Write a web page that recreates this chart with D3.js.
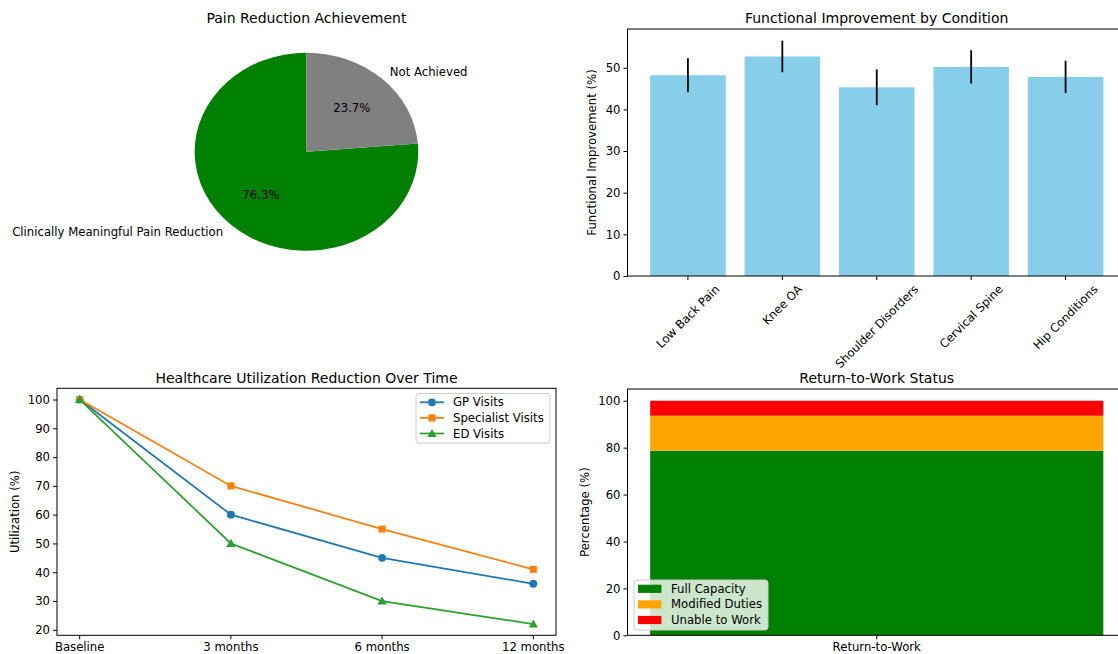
<!DOCTYPE html>
<html><head><meta charset="utf-8">
<script src="https://cdn.jsdelivr.net/npm/d3@7"></script>
<style>
body{margin:0;background:#fff}
svg{display:block;font-family:"DejaVu Sans",sans-serif}
</style></head><body>
<svg id="fig" width="1118" height="654"></svg>
<script>
// Pain reduction outcome split
const painLabels = ["Clinically Meaningful Pain Reduction", "Not Achieved"];
const painValues = [76.3, 23.7];
const painColors = ["#008000", "#808080"];

// Functional improvement by condition (mean and error)
const conditions = ["Low Back Pain", "Knee OA", "Shoulder Disorders", "Cervical Spine", "Hip Conditions"];
const improvement = [48.2, 52.7, 45.3, 50.2, 47.8];
const improvementErr = [4.1, 3.8, 4.3, 4.0, 3.9];
const improvementTicks = [0, 10, 20, 30, 40, 50];

// Healthcare utilisation over time (% of baseline)
const timepoints = ["Baseline", "3 months", "6 months", "12 months"];
const gpVisits = [100, 60, 45, 36];
const specialistVisits = [100, 70, 55, 41];
const edVisits = [100, 50, 30, 22];
const utilTicks = [20, 30, 40, 50, 60, 70, 80, 90, 100];

// Return-to-work status
const rtwCategory = ["Return-to-Work"];
const rtwStatus = ["Full Capacity", "Modified Duties", "Unable to Work"];
const rtwValues = [78.7, 14.9, 6.4];
const rtwColors = ["#008000", "#ffa500", "#ff0000"];
const rtwTicks = [0, 20, 40, 60, 80, 100];

const FS = 11.7, TFS = 14;
const svg = d3.select("#fig");

function frame(x0, y0, x1, y1) {
  svg.append("rect").attr("x", x0).attr("y", y0).attr("width", x1 - x0).attr("height", y1 - y0)
    .attr("fill", "none").attr("stroke", "#000").attr("stroke-width", 1);
}
function title(text, x, y) {
  svg.append("text").attr("x", x).attr("y", y).attr("text-anchor", "middle")
    .attr("font-size", TFS).attr("fill", "#000").text(text);
}
function yLabel(text, x, y) {
  svg.append("text").attr("transform", `translate(${x},${y}) rotate(-90)`)
    .attr("text-anchor", "middle").attr("dominant-baseline", "central")
    .attr("font-size", FS).attr("fill", "#000").text(text);
}
function yAxis(scale, x, ticks) {
  const g = svg.append("g").attr("transform", `translate(${x},0)`)
    .call(d3.axisLeft(scale).tickValues(ticks).tickSize(4).tickPadding(3).tickFormat(d3.format("d")));
  g.select(".domain").remove();
  g.selectAll("text").attr("font-size", FS).attr("font-family", "DejaVu Sans").attr("fill", "#000");
  g.selectAll("line").attr("stroke", "#000");
  return g;
}

// ---------- Pie: pain reduction ----------
{
  const cx = 306.4, cy = 151.7, rx = 111.8, ry = 99;
  const arcs = d3.pie().sort(null).startAngle(0).endAngle(-2 * Math.PI)(painValues);
  const arc = d3.arc().innerRadius(0).outerRadius(1);
  const g = svg.append("g").attr("transform", `translate(${cx},${cy}) scale(${rx},${ry})`);
  g.selectAll("path").data(arcs).join("path").attr("d", arc).attr("fill", (d, i) => painColors[i]);
  arcs.forEach((a, i) => {
    const mid = (a.startAngle + a.endAngle) / 2;
    const dx = Math.sin(mid), dy = -Math.cos(mid);
    svg.append("text").attr("x", cx + dx * 1.1 * rx).attr("y", cy + dy * 1.1 * ry)
      .attr("text-anchor", dx > 0 ? "start" : "end").attr("dominant-baseline", "central")
      .attr("font-size", FS).attr("fill", "#000").text(painLabels[i]);
    svg.append("text").attr("x", cx + dx * 0.6 * rx).attr("y", cy + dy * 0.6 * ry)
      .attr("text-anchor", "middle").attr("dominant-baseline", "central")
      .attr("font-size", FS).attr("fill", "#000").text(painValues[i].toFixed(1) + "%");
  });
  title("Pain Reduction Achievement", cx, 23.3);
}

// ---------- Bars: functional improvement ----------
{
  const x0 = 627.5, x1 = 1126, y0 = 29, y1 = 276;
  const x = d3.scaleBand().domain(conditions).range([x0, x1]).paddingInner(0.2).paddingOuter(0.24);
  const y = d3.scaleLinear().domain([0, 59.3]).range([y1, y0]);
  svg.append("g").selectAll("rect").data(conditions).join("rect")
    .attr("x", d => x(d)).attr("width", x.bandwidth())
    .attr("y", (d, i) => y(improvement[i])).attr("height", (d, i) => y1 - y(improvement[i]))
    .attr("fill", "#87ceeb");
  svg.append("g").selectAll("line").data(conditions).join("line")
    .attr("x1", d => x(d) + x.bandwidth() / 2).attr("x2", d => x(d) + x.bandwidth() / 2)
    .attr("y1", (d, i) => y(improvement[i] - improvementErr[i]))
    .attr("y2", (d, i) => y(improvement[i] + improvementErr[i]))
    .attr("stroke", "#000").attr("stroke-width", 1.8);
  frame(x0, y0, x1, y1);
  yAxis(y, x0, improvementTicks);
  // x ticks with 45° labels
  conditions.forEach(c => {
    const cxp = x(c) + x.bandwidth() / 2;
    svg.append("line").attr("x1", cxp).attr("x2", cxp).attr("y1", y1).attr("y2", y1 + 4).attr("stroke", "#000");
    const t = svg.append("text").attr("text-anchor", "middle").attr("dominant-baseline", "central")
      .attr("font-size", FS).attr("fill", "#000").text(c);
    const L = t.node().getComputedTextLength();
    const side = (L + FS * 1.0) / Math.SQRT2;
    t.attr("transform", `translate(${cxp},${y1 + 7 + side / 2}) rotate(-45)`);
  });
  yLabel("Functional Improvement (%)", 592, (y0 + y1) / 2);
  title("Functional Improvement by Condition", 876.7, 23.3);
}

// ---------- Lines: healthcare utilisation ----------
{
  const x0 = 57, x1 = 556, y0 = 388.3, y1 = 635.3;
  const x = d3.scalePoint().domain(timepoints).range([x0, x1]).padding(0.15);
  const y = d3.scaleLinear().domain([18.1, 103.9]).range([y1, y0]);
  const series = [
    {name: "GP Visits", values: gpVisits, color: "#1f77b4", marker: "circle"},
    {name: "Specialist Visits", values: specialistVisits, color: "#ff7f0e", marker: "square"},
    {name: "ED Visits", values: edVisits, color: "#2ca02c", marker: "triangle"}
  ];
  const sym = {circle: d3.symbolCircle, square: d3.symbolSquare, triangle: d3.symbolTriangle};
  const size = {circle: 48, square: 50, triangle: 38};
  const line = d3.line().x((d, i) => x(timepoints[i])).y(d => y(d));
  series.forEach(s => {
    svg.append("path").datum(s.values).attr("d", line).attr("fill", "none")
      .attr("stroke", s.color).attr("stroke-width", 1.75);
    svg.append("g").selectAll("path").data(s.values).join("path")
      .attr("d", d3.symbol(sym[s.marker], size[s.marker]))
      .attr("transform", (d, i) => `translate(${x(timepoints[i])},${y(d) + (s.marker === "triangle" ? 0.8 : 0)})`)
      .attr("fill", s.color);
  });
  frame(x0, y0, x1, y1);
  yAxis(y, x0, utilTicks);
  timepoints.forEach(tp => {
    svg.append("line").attr("x1", x(tp)).attr("x2", x(tp)).attr("y1", y1).attr("y2", y1 + 4).attr("stroke", "#000");
    svg.append("text").attr("x", x(tp)).attr("y", y1 + 16).attr("text-anchor", "middle")
      .attr("font-size", FS).attr("fill", "#000").text(tp);
  });
  // legend
  const lg = svg.append("g");
  lg.append("rect").attr("x", 416).attr("y", 393.5).attr("width", 134).attr("height", 49.5).attr("rx", 3)
    .attr("fill", "#fff").attr("fill-opacity", 0.8).attr("stroke", "#ccc");
  series.forEach((s, i) => {
    const ly = 402.3 + i * 15.6;
    lg.append("line").attr("x1", 420).attr("x2", 444).attr("y1", ly).attr("y2", ly)
      .attr("stroke", s.color).attr("stroke-width", 1.75);
    lg.append("path").attr("d", d3.symbol(sym[s.marker], size[s.marker]))
      .attr("transform", `translate(432,${ly + (s.marker === "triangle" ? 0.8 : 0)})`).attr("fill", s.color);
    lg.append("text").attr("x", 453).attr("y", ly).attr("dominant-baseline", "central")
      .attr("font-size", FS).attr("fill", "#000").text(s.name);
  });
  yLabel("Utilization (%)", 14.5, (y0 + y1) / 2);
  title("Healthcare Utilization Reduction Over Time", (x0 + x1) / 2, 382.5);
}

// ---------- Stacked bar: return to work ----------
{
  const x0 = 627.5, x1 = 1126, y0 = 389, y1 = 635.3;
  // single category at position 0, bar width 0.8, axis limits ±0.44
  const x = d3.scaleLinear().domain([-0.44, 0.44]).range([x0, x1]);
  const barW = 0.8;
  const y = d3.scaleLinear().domain([0, 105]).range([y1, y0]);
  let base = 0;
  rtwValues.forEach((v, i) => {
    svg.append("rect").attr("x", x(-barW / 2)).attr("width", x(barW / 2) - x(-barW / 2))
      .attr("y", y(base + v)).attr("height", y(base) - y(base + v)).attr("fill", rtwColors[i]);
    base += v;
  });
  frame(x0, y0, x1, y1);
  yAxis(y, x0, rtwTicks);
  const cxp = x(0);
  svg.append("line").attr("x1", cxp).attr("x2", cxp).attr("y1", y1).attr("y2", y1 + 4).attr("stroke", "#000");
  svg.append("text").attr("x", cxp).attr("y", y1 + 16).attr("text-anchor", "middle")
    .attr("font-size", FS).attr("fill", "#000").text(rtwCategory[0]);
  // legend
  const lg = svg.append("g");
  lg.append("rect").attr("x", 634).attr("y", 580).attr("width", 134).attr("height", 50).attr("rx", 3)
    .attr("fill", "#fff").attr("fill-opacity", 0.8).attr("stroke", "#ccc");
  rtwStatus.forEach((s, i) => {
    const ly = 588.7 + i * 15.6;
    lg.append("rect").attr("x", 638).attr("y", ly - 4).attr("width", 23.4).attr("height", 8.2).attr("fill", rtwColors[i]);
    lg.append("text").attr("x", 671).attr("y", ly).attr("dominant-baseline", "central")
      .attr("font-size", FS).attr("fill", "#000").text(s);
  });
  yLabel("Percentage (%)", 584.7, (y0 + y1) / 2);
  title("Return-to-Work Status", 876.7, 382.5);
}
</script>
</body></html>
